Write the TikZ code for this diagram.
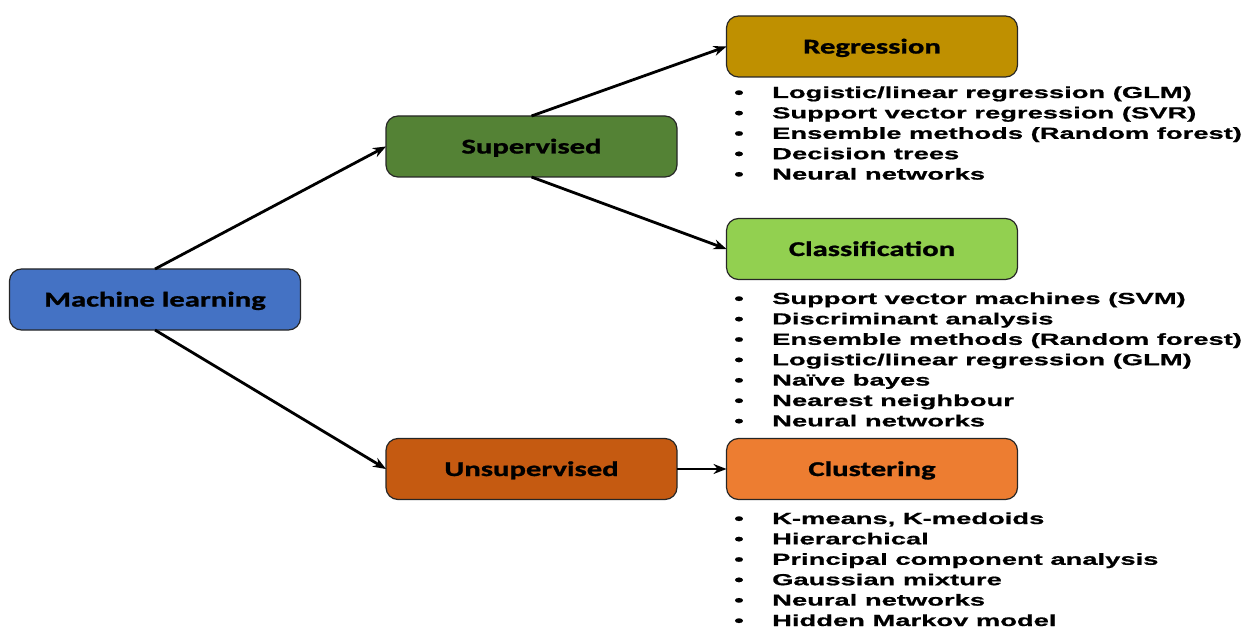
\documentclass[tikz,border=0pt]{standalone}
\usepackage{fontspec}
\usetikzlibrary{arrows.meta}
\newfontfamily\boxfont[FakeStretch=1.46,BoldFeatures={FakeBold=1.2}]{Carlito}
\newfontfamily\listfont[FakeStretch=1.71,BoldFeatures={FakeBold=0.8}]{Liberation Sans}
\definecolor{mlblue}{HTML}{4472C4}
\definecolor{supgreen}{HTML}{548235}
\definecolor{unsorange}{HTML}{C55A11}
\definecolor{reggold}{HTML}{BF9000}
\definecolor{clsgreen}{HTML}{92D050}
\definecolor{cluorange}{HTML}{ED7D31}
\tikzset{
  catbox/.style={draw=black!85, line width=1.2pt, rounded corners=12pt,
    minimum width=291pt, minimum height=61pt, outer sep=0pt, inner sep=0pt,
    text height=16pt, text depth=2pt,
    font=\boxfont\bfseries\fontsize{21}{24}\selectfont, text=black},
  arr/.style={line width=2.8pt, -{Stealth[length=13pt,width=10pt]}},
  item/.style={anchor=base west, inner sep=0pt,
    font=\listfont\bfseries\fontsize{16}{20}\selectfont}
}
\begin{document}
\begin{tikzpicture}[x=1pt,y=-1pt]
\useasboundingbox (0,0) rectangle (1242,628);

% category boxes
\node[catbox, fill=mlblue]    (ml)  at (155,299.5) {Machine learning};
\node[catbox, fill=supgreen]  (sup) at (531.5,146.5) {Supervised};
\node[catbox, fill=unsorange] (uns) at (531.5,469) {Unsupervised};
\node[catbox, fill=reggold]   (reg) at (872,46.5) {Regression};
\node[catbox, fill=clsgreen]  (cls) at (872,249) {Classification};
\node[catbox, fill=cluorange] (clu) at (872,469) {Clustering};

% connectors
\draw[arr] (ml.north) -- (sup.west);
\draw[arr] (ml.south) -- (uns.west);
\draw[arr] (sup.north) -- (reg.west);
\draw[arr] (sup.south) -- (cls.west);
\draw[arr] (uns.east) -- (clu.west);

% method lists
\foreach \t [count=\i] in {Logistic/linear regression (GLM),
    Support vector regression (SVR), Ensemble methods (Random forest),
    Decision trees, Neural networks}
  \node[item] (regitem\i) at (734,{98+20.4*(\i-1)}) {\makebox[38pt][l]{•}\t};

\foreach \t [count=\i] in {Support vector machines (SVM), Discriminant analysis,
    Ensemble methods (Random forest), Logistic/linear regression (GLM),
    Naïve bayes, Nearest neighbour, Neural networks}
  \node[item] (clsitem\i) at (734,{304+20.4*(\i-1)}) {\makebox[38pt][l]{•}\t};

\foreach \t [count=\i] in {{K-means, K-medoids}, Hierarchical,
    Principal component analysis, Gaussian mixture, Neural networks,
    Hidden Markov model}
  \node[item] (cluitem\i) at (734,{524+20.4*(\i-1)}) {\makebox[38pt][l]{•}\t};
\end{tikzpicture}
\end{document}
